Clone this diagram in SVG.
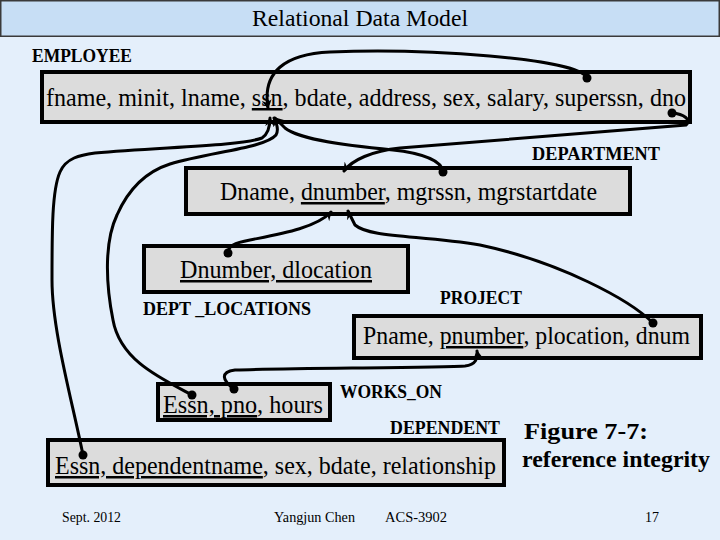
<svg xmlns="http://www.w3.org/2000/svg" width="720" height="540" viewBox="0 0 720 540">
<defs>
<style>
.bg{fill:#E4EFFB}
.bar{fill:#C7DEF5;stroke:#3a3a3a;stroke-width:1.5}
.box{fill:#DCDCDC;stroke:#000;stroke-width:4}
text{font-family:"Liberation Serif","Times New Roman",serif;fill:#000}
.t{font-size:25px}
.lbl{font-size:18px;font-weight:bold}
.fig{font-size:24px;font-weight:bold}
.title{font-size:24px}
.foot{font-size:15px}
.u{text-decoration:underline}
.c{fill:none;stroke:#000;stroke-width:3;stroke-linecap:round;marker-end:url(#arr)}
.dot{fill:#000}
</style>
<marker id="arr" markerWidth="10" markerHeight="10" refX="8" refY="5" orient="auto" markerUnits="userSpaceOnUse">
<path d="M0,0 L9,5 L0,10 L3,5 Z" fill="#000"/>
</marker>
</defs>
<rect class="bg" x="0" y="0" width="720" height="540"/>
<g id="title">
<rect class="bar" x="0.75" y="0.75" width="718.5" height="35.5"/>
<text class="title" x="252" y="26" textLength="216" lengthAdjust="spacingAndGlyphs">Relational Data Model</text>
</g>
<g id="employee">
<text class="lbl" x="32" y="62" textLength="100" lengthAdjust="spacingAndGlyphs">EMPLOYEE</text>
<rect class="box" x="42" y="72" width="648" height="50"/>
<text class="t" x="46" y="106" textLength="640" lengthAdjust="spacingAndGlyphs">fname, minit, lname, <tspan class="u">ssn</tspan>, bdate, address, sex, salary, superssn, dno</text>
</g>
<g id="department">
<text class="lbl" x="532" y="160" textLength="128" lengthAdjust="spacingAndGlyphs">DEPARTMENT</text>
<rect class="box" x="186" y="168" width="444" height="46"/>
<text class="t" x="220" y="200" textLength="377" lengthAdjust="spacingAndGlyphs">Dname, <tspan class="u">dnumber</tspan>, mgrssn, mgrstartdate</text>
</g>
<g id="dept_locations">
<rect class="box" x="144" y="246" width="264" height="46"/>
<text class="t" x="180" y="278" textLength="192" lengthAdjust="spacingAndGlyphs"><tspan class="u">Dnumber, dlocation</tspan></text>
<text class="lbl" x="143" y="315" textLength="168" lengthAdjust="spacingAndGlyphs">DEPT _LOCATIONS</text>
</g>
<g id="project">
<text class="lbl" x="440" y="304" textLength="82" lengthAdjust="spacingAndGlyphs">PROJECT</text>
<rect class="box" x="354" y="316" width="347" height="42"/>
<text class="t" x="363" y="344" textLength="327" lengthAdjust="spacingAndGlyphs">Pname, <tspan class="u">pnumber</tspan>, plocation, dnum</text>
</g>
<g id="works_on">
<rect class="box" x="158" y="384" width="172" height="36"/>
<text class="t" x="163" y="413" textLength="160" lengthAdjust="spacingAndGlyphs"><tspan class="u">Essn, pno</tspan>, hours</text>
<text class="lbl" x="340" y="398" textLength="102" lengthAdjust="spacingAndGlyphs">WORKS_ON</text>
</g>
<g id="dependent">
<text class="lbl" x="390" y="434" textLength="110" lengthAdjust="spacingAndGlyphs">DEPENDENT</text>
<rect class="box" x="48" y="440" width="456" height="45"/>
<text class="t" x="55" y="474" textLength="441" lengthAdjust="spacingAndGlyphs"><tspan class="u">Essn, dependentname</tspan>, sex, bdate, relationship</text>
</g>
<g id="caption">
<text class="fig" x="524" y="439" textLength="124" lengthAdjust="spacingAndGlyphs">Figure 7-7:</text>
<text class="fig" x="522" y="467" textLength="188" lengthAdjust="spacingAndGlyphs">reference integrity</text>
</g>
<g id="connectors">
<path class="c" d="M587,78 C580,58 420,48 330,52 C285,54 262,72 268,108"/>
<path class="c" d="M672,113 C684,114 692,120 686,125 L400,148 C372,151 352,160 344,171"/>
<path class="c" d="M443,172 C442,160 420,153 393,150 C350,146 300,140 285,128 L275,118"/>
<path class="c" d="M192,395 C160,378 120,360 113,320 C105,280 105,240 117,215 C128,190 145,172 170,164 C210,152 265,148 276,135 C279,130 277,124 274,118"/>
<path class="c" d="M83,455 C72,400 52,330 52,280 C52,230 52,190 60,172 C66,158 80,155 95,153 C160,147 240,146 262,138 C268,134 270,126 270,118"/>
<path class="c" d="M228,253 C228,246 234,243 250,240 C280,234 316,228 331,212"/>
<path class="c" d="M653,323 C630,300 560,262 480,245 C420,235 370,238 355,225 L348,211"/>
<path class="c" d="M234,389 C222,380 220,372 235,370 C300,368 420,368 465,366 C476,365 478,358 477,351"/>
<circle class="dot" cx="587" cy="78" r="4.5"/>
<circle class="dot" cx="672" cy="113" r="4.5"/>
<circle class="dot" cx="443" cy="172" r="4.5"/>
<circle class="dot" cx="192" cy="395" r="4.5"/>
<circle class="dot" cx="83" cy="455" r="4.5"/>
<circle class="dot" cx="228" cy="253" r="4.5"/>
<circle class="dot" cx="653" cy="323" r="4.5"/>
<circle class="dot" cx="234" cy="389" r="4.5"/>
</g>
<g id="footer">
<text class="foot" x="62" y="522" textLength="59" lengthAdjust="spacingAndGlyphs">Sept. 2012</text>
<text class="foot" x="274" y="522" textLength="81" lengthAdjust="spacingAndGlyphs">Yangjun Chen</text>
<text class="foot" x="385" y="522" textLength="62" lengthAdjust="spacingAndGlyphs">ACS-3902</text>
<text class="foot" x="645" y="522" textLength="14" lengthAdjust="spacingAndGlyphs">17</text>
</g>
</svg>
